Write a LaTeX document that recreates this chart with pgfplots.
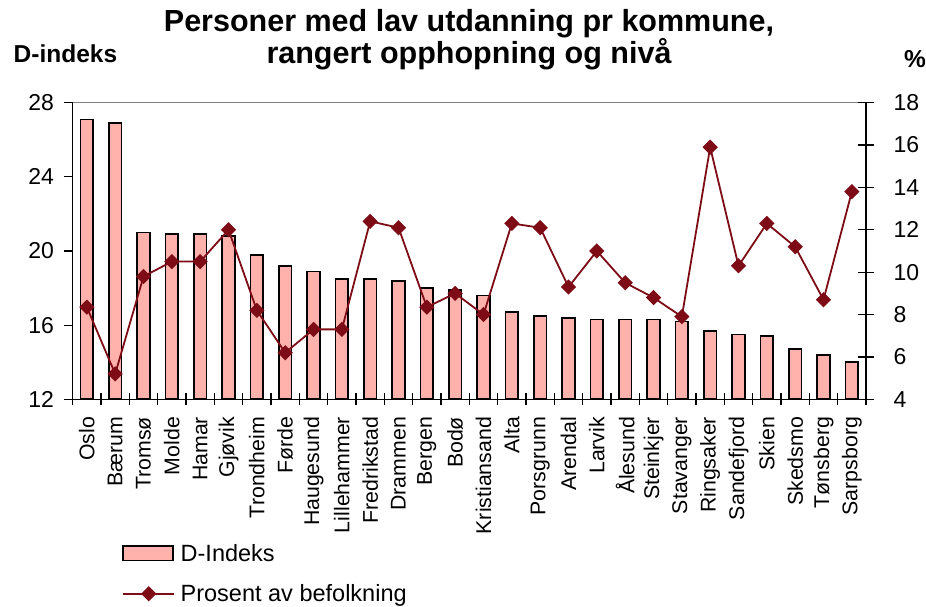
\documentclass[border=0pt]{standalone}
\usepackage{fontspec}
\setmainfont{Liberation Sans}
\usepackage{pgfplots}
\usepackage{pgfplotstable}
\pgfplotsset{compat=1.18}
\definecolor{barpink}{RGB}{255,178,172}
\definecolor{linered}{RGB}{125,12,22}
\definecolor{topgray}{RGB}{128,128,128}
\pgfplotsset{
  barleg/.style={legend image code/.code={\draw[fill=barpink, draw=black, line width=1.6pt] (0pt,-7.3pt) rectangle (50pt,7.3pt);}},
  lineleg/.style={legend image code/.code={\draw[##1, mark repeat=2, mark phase=2] plot coordinates {(0pt,0pt) (25.5pt,0pt) (51pt,0pt)};}},
}

\pgfplotstableread{
x d p
0 27.1 8.35
1 26.9 5.2
2 21.0 9.8
3 20.9 10.5
4 20.9 10.5
5 20.8 12.0
6 19.8 8.2
7 19.2 6.2
8 18.9 7.3
9 18.5 7.3
10 18.5 12.4
11 18.4 12.1
12 18.0 8.35
13 17.9 9.0
14 17.6 8.0
15 16.7 12.3
16 16.5 12.1
17 16.4 9.3
18 16.3 11.0
19 16.3 9.5
20 16.3 8.8
21 16.2 7.9
22 15.7 15.9
23 15.5 10.3
24 15.4 12.3
25 14.7 11.2
26 14.4 8.7
27 14.0 13.8
}\data

\begin{document}
\begin{tikzpicture}
\path[use as bounding box] (0,0) rectangle (926pt,-607pt);
\node[anchor=base, inner sep=0pt, font=\fontsize{30.5}{33}\selectfont\bfseries] at (469pt,-32pt) {Personer med lav utdanning pr kommune,};
\node[anchor=base, inner sep=0pt, font=\fontsize{30.5}{33}\selectfont\bfseries] at (469pt,-64pt) {rangert opphopning og nivå};
\node[anchor=base west, inner sep=0pt, font=\fontsize{24.5}{28}\selectfont\bfseries] at (13.5pt,-62.7pt) {D-indeks};
\node[anchor=base east, inner sep=0pt, font=\fontsize{24.5}{28}\selectfont\bfseries] at (926pt,-68pt) {\%};

\begin{axis}[
  at={(72.7pt,-399.3pt)}, anchor=south west,
  scale only axis, width=793.3pt, height=296.6pt,
  xmin=-0.5, xmax=27.5, ymin=12, ymax=28,
  ytick={12,16,20,24,28},
  axis x line*=bottom, axis y line*=left,
  axis line style={-, black, line width=1.3pt},
  xtick={0,...,27},
  xticklabels={Oslo,Bærum,Tromsø,Molde,Hamar,Gjøvik,Trondheim,Førde,Haugesund,Lillehammer,Fredrikstad,Drammen,Bergen,Bodø,Kristiansand,Alta,Porsgrunn,Arendal,Larvik,Ålesund,Steinkjer,Stavanger,Ringsaker,Sandefjord,Skien,Skedsmo,Tønsberg,Sarpsborg},
  minor xtick={-0.5,0.5,...,27.5},
  xtick align=center, ytick align=outside,
  major tick length=9pt, minor tick length=12pt,
  major x tick style={draw=none},
  tick style={black, line width=1.2pt},
  xticklabel style={rotate=90, anchor=east, inner sep=0pt, font=\fontsize{21.3}{24}\selectfont},
  xticklabel shift=13pt,
  yticklabel style={anchor=east, inner sep=0pt, font=\fontsize{23}{26}\selectfont},
  yticklabel shift=9.5pt,
  /pgf/number format/assume math mode=true,
  clip=false,
]
\draw[topgray, line width=1.3pt] (rel axis cs:0,1) -- (rel axis cs:1,1);
\addplot[ybar, bar width=12.5pt, fill=barpink, draw=black, line width=1.7pt] table[x=x,y=d]{\data};
\end{axis}

\begin{axis}[
  at={(72.7pt,-399.3pt)}, anchor=south west,
  scale only axis, width=793.3pt, height=296.6pt,
  xmin=-0.5, xmax=27.5, ymin=4, ymax=18,
  ytick={4,6,...,18},
  axis y line*=right, axis x line=none,
  axis line style={-, black, line width=1.3pt},
  ytick align=center, major tick length=16pt,
  tick style={black, line width=1.2pt},
  yticklabel style={anchor=west, inner sep=0pt, font=\fontsize{23}{26}\selectfont},
  yticklabel shift=19.5pt,
  /pgf/number format/assume math mode=true,
  clip=false,
  legend style={draw=none, fill=none, at={(0.0586,-0.472)}, anchor=north west,
    font=\fontsize{23.5}{28}\selectfont, row sep=17pt, nodes={inner sep=2.5pt},
    /tikz/every odd column/.append style={column sep=3pt}},
  legend cell align=left,
]
\addlegendimage{barleg}
\addlegendentry{D-Indeks}
\addplot[linered, line width=1.8pt, mark=square*, mark size=4.5pt, mark options={rotate=45, solid, fill=linered}, lineleg]
  table[x=x,y=p]{\data};
\addlegendentry{Prosent av befolkning}
\end{axis}
\end{tikzpicture}
\end{document}
